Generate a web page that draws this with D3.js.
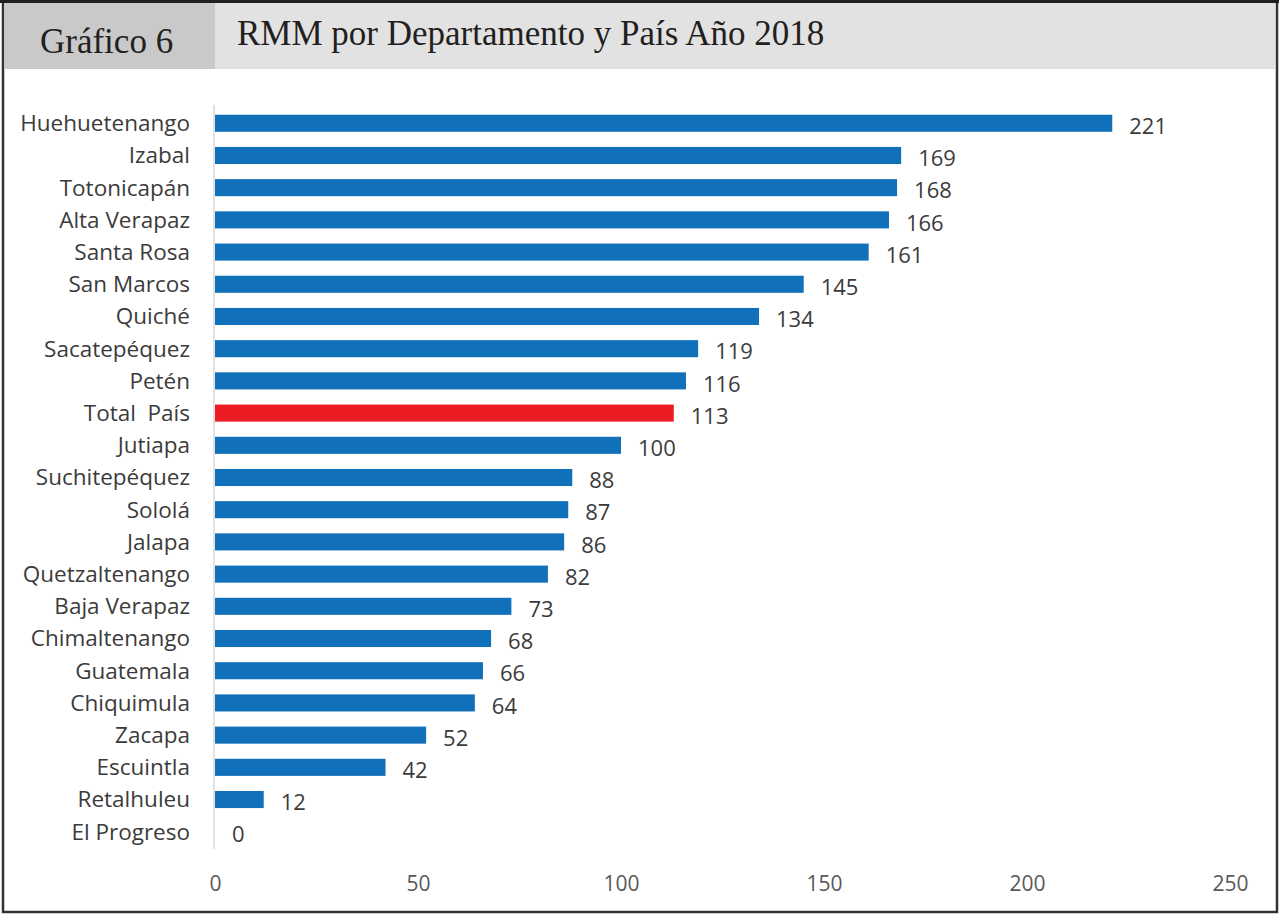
<!DOCTYPE html>
<html>
<head>
<meta charset="utf-8" />
<script src="https://cdn.jsdelivr.net/npm/d3@7"></script>
<style>
  body { margin: 0; background: #fff; }
  svg { display: block; }
  .cat { font-family: "Open Sans", "Noto Sans", sans-serif; font-size: 22.5px; fill: #3b3b3b; white-space: pre; }
  .val { font-family: "Open Sans", "Noto Sans", sans-serif; font-size: 22px; fill: #3b3b3b; }
  .tick text { font-family: "Open Sans", "Noto Sans", sans-serif; font-size: 21px; fill: #595959; }
  .head { font-family: "Liberation Serif", "DejaVu Serif", serif; font-size: 35px; fill: #231f20; }
</style>
</head>
<body>
<svg id="chart"></svg>
<script>
var departamentos = ["Huehuetenango", "Izabal", "Totonicapán", "Alta Verapaz", "Santa Rosa",
  "San Marcos", "Quiché", "Sacatepéquez", "Petén", "Total  País", "Jutiapa", "Suchitepéquez",
  "Sololá", "Jalapa", "Quetzaltenango", "Baja Verapaz", "Chimaltenango", "Guatemala",
  "Chiquimula", "Zacapa", "Escuintla", "Retalhuleu", "El Progreso"];
var rmm = [221, 169, 168, 166, 161, 145, 134, 119, 116, 113, 100, 88, 87, 86, 82, 73, 68, 66, 64, 52, 42, 12, 0];
var ticks = [0, 50, 100, 150, 200, 250];
var totalLabel = "Total  País";

var width = 1279, height = 914;
var svg = d3.select("#chart").attr("width", width).attr("height", height);

// frame and header
svg.append("rect").attr("x", 3).attr("y", 2).attr("width", width - 5).attr("height", height - 4)
  .attr("fill", "#fff").attr("stroke", "#333").attr("stroke-width", 2.5);
svg.append("rect").attr("x", 4).attr("y", 3).attr("width", 211).attr("height", 66).attr("fill", "#c9c9c9");
svg.append("rect").attr("x", 215).attr("y", 3).attr("width", width - 219).attr("height", 66).attr("fill", "#e2e2e2");
svg.append("line").attr("x1", 0).attr("x2", width).attr("y1", 1.5).attr("y2", 1.5)
  .attr("stroke", "#231f20").attr("stroke-width", 3);
svg.append("text").attr("class", "head").attr("x", 40).attr("y", 53).text("Gráfico 6");
svg.append("text").attr("class", "head").attr("x", 237).attr("y", 45).text("RMM por Departamento y País Año 2018");

var x = d3.scaleLinear().domain([0, 250]).range([215, 1230]);
var y = d3.scaleBand().domain(departamentos).range([107, 848]).paddingInner(0.47).paddingOuter(0.24);

// category axis line
svg.append("line").attr("x1", 214).attr("x2", 214).attr("y1", 105).attr("y2", 849)
  .attr("stroke", "#d9d9d9").attr("stroke-width", 1.5);

svg.selectAll("rect.bar").data(departamentos).enter().append("rect")
  .attr("class", "bar")
  .attr("x", x(0))
  .attr("y", function(d) { return y(d); })
  .attr("width", function(d, i) { return x(rmm[i]) - x(0); })
  .attr("height", y.bandwidth())
  .attr("fill", function(d) { return d === totalLabel ? "#ed1c24" : "#1170ba"; });

svg.selectAll("text.cat").data(departamentos).enter().append("text")
  .attr("class", "cat")
  .attr("x", 190)
  .attr("y", function(d) { return y(d) + y.bandwidth() / 2; })
  .attr("dy", "0.35em")
  .attr("text-anchor", "end")
  .text(function(d) { return d; });

svg.selectAll("text.val").data(departamentos).enter().append("text")
  .attr("class", "val")
  .attr("x", function(d, i) { return x(rmm[i]) + 17; })
  .attr("y", function(d) { return y(d) + y.bandwidth() / 2 + 3; })
  .attr("dy", "0.35em")
  .text(function(d, i) { return rmm[i]; });

var axis = svg.append("g").attr("transform", "translate(0,884)")
  .call(d3.axisBottom(x).tickValues(ticks).tickSize(0).tickPadding(0));
axis.select(".domain").remove();
axis.selectAll(".tick text").attr("dy", "0.35em").attr("y", 0);
</script>
</body>
</html>
